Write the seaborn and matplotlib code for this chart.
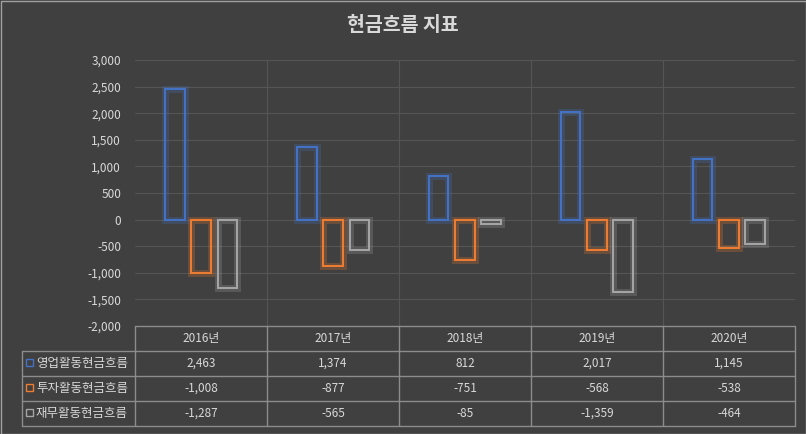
import matplotlib
matplotlib.use("Agg")
import matplotlib.pyplot as plt
import matplotlib.patheffects as pe
import pandas as pd
import seaborn as sns

years = ["2016년", "2017년", "2018년", "2019년", "2020년"]
series = ["영업활동현금흐름", "투자활동현금흐름", "재무활동현금흐름"]
operating = [2463, 1374, 812, 2017, 1145]
investing = [-1008, -877, -751, -568, -538]
financing = [-1287, -565, -85, -1359, -464]
colors = ["#4472C4", "#ED7D31", "#A5A5A5"]

BG = "#404040"
GRID = "#555555"
TXT = "#D9D9D9"
sns.set_theme(style="dark")
plt.rcParams["font.family"] = ["Noto Sans CJK KR", "DejaVu Sans"]

df = pd.DataFrame({"year": years * 3,
                   "series": [s for s in series for _ in years],
                   "value": operating + investing + financing})

W, H = 806, 434
fig = plt.figure(figsize=(W / 100, H / 100), dpi=100, facecolor=BG)
ax = fig.add_axes([135 / W, 1 - 326 / H, 660 / W, 266 / H], facecolor=BG)
sns.barplot(data=df, x="year", y="value", hue="series", palette=colors,
            width=0.6, gap=0.25, ax=ax, legend=False)
for bars, c in zip(ax.containers, colors):
    for p in bars:
        p.set_facecolor("none")
        p.set_edgecolor(c)
        p.set_linewidth(1.3)
        p.set_path_effects([pe.withStroke(linewidth=5, foreground=c, alpha=0.25),
                            pe.Normal()])
ax.set_ylim(-2000, 3000)
ax.set_xlim(-0.5, 4.5)
ax.set_yticks(range(-2000, 3001, 500))
ax.set_yticklabels([f"{v:,}" for v in range(-2000, 3001, 500)], color=TXT, fontsize=8.5)
ax.set_xticks([])
ax.set_xlabel("")
ax.set_ylabel("")
ax.tick_params(axis="y", length=0, pad=10)
for v in range(-1500, 3001, 500):
    ax.axhline(v, color=GRID, lw=0.8, zorder=0)
for x in [0.5, 1.5, 2.5, 3.5]:
    ax.axvline(x, color=GRID, lw=0.8, zorder=0)
for s in ax.spines.values():
    s.set_visible(False)

fig.text(0.5, 1 - 25 / H, "현금흐름 지표", ha="center", va="center",
         color=TXT, fontsize=14, fontweight="bold")

# data table overlay in pixel coordinates
ov = fig.add_axes([0, 0, 1, 1])
ov.set_xlim(0, W)
ov.set_ylim(H, 0)
ov.axis("off")
lc = "#8C8C8C"
rows_y = [326, 351, 376, 401, 426]
ov.plot([135, 795], [326, 326], color=lc, lw=1)
for y in rows_y[1:]:
    ov.plot([22, 795], [y, y], color=lc, lw=1)
ov.plot([22, 22], [351, 426], color=lc, lw=1)
col_x = [135 + 132 * i for i in range(6)]
for x in col_x:
    ov.plot([x, x], [326, 426], color=lc, lw=1)
for i, yr in enumerate(years):
    ov.text(col_x[i] + 66, 338.5, yr, ha="center", va="center", color=TXT, fontsize=8.5)
for r, (name, vals, c) in enumerate(zip(series, [operating, investing, financing], colors)):
    yc = 363.5 + 25 * r
    ov.add_patch(plt.Rectangle((26, yc - 5), 7, 7, fill=False, ec=c, lw=1))
    ov.text(36, yc, name, ha="left", va="center", color=TXT, fontsize=9)
    for i, v in enumerate(vals):
        ov.text(col_x[i] + 66, yc, f"{v:,}", ha="center", va="center", color=TXT, fontsize=8.5)
ov.add_patch(plt.Rectangle((0.5, 0.5), W - 1, H - 1, fill=False, ec="#A0A0A0", lw=1))

fig.savefig("out.png", dpi=100, facecolor=BG)
